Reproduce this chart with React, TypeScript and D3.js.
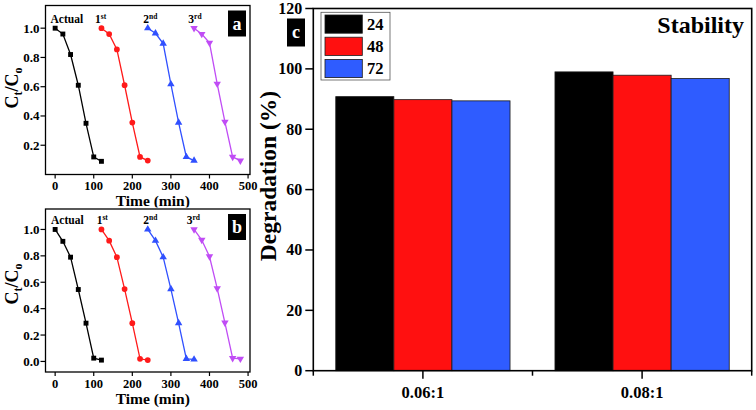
import React from "react";
import * as d3 from "d3";

// ---------- DATA ----------
const timeActual = [0, 20, 40, 60, 80, 100, 120];
const time1st = [120, 140, 160, 180, 200, 220, 240];
const time2nd = [240, 260, 280, 300, 320, 340, 360];
const time3rd = [360, 380, 400, 420, 440, 460, 480];

const aActual = [1.0, 0.96, 0.82, 0.61, 0.35, 0.12, 0.09];
const a1st = [1.0, 0.96, 0.855, 0.61, 0.355, 0.12, 0.095];
const a2nd = [1.0, 0.965, 0.895, 0.617, 0.355, 0.12, 0.095];
const a3rd = [1.0, 0.96, 0.9, 0.62, 0.36, 0.12, 0.095];

const bActual = [1.0, 0.91, 0.79, 0.545, 0.29, 0.025, 0.01];
const b1st = [1.0, 0.915, 0.79, 0.548, 0.29, 0.02, 0.01];
const b2nd = [1.0, 0.915, 0.79, 0.548, 0.29, 0.02, 0.015];
const b3rd = [1.0, 0.92, 0.795, 0.553, 0.293, 0.025, 0.02];

const timeTicks = [0, 100, 200, 300, 400, 500];
const ctTicksA = [0.2, 0.4, 0.6, 0.8, 1.0];
const ctTicksB = [0.0, 0.2, 0.4, 0.6, 0.8, 1.0];

const ratios = ["0.06:1", "0.08:1"];
const hours = ["24", "48", "72"];
const deg24 = [90.8, 99.0];
const deg48 = [89.8, 97.9];
const deg72 = [89.4, 96.8];
const degTicks = [0, 20, 40, 60, 80, 100, 120];

// ---------- STYLE ----------
const FONT_STYLE = { fontFamily: "Liberation Serif" };
const cycleColors = ["#000000", "#ff1a1a", "#3050ff", "#c04cf5"];
const barColors = ["#000000", "#ff1010", "#2f5cff"];
const symbolTypes = [d3.symbolSquare, d3.symbolCircle, d3.symbolTriangle, d3.symbolTriangle];

type PanelProps = {
  top: number;
  bottom: number;
  yDomain: [number, number];
  yTicks: number[];
  series: number[][];
  letter: string;
  labelBaseline: number;
  titleBaseline: number;
  tickBaseline: number;
  ctCenter: number;
  labelXs: number[];
};

const times = [timeActual, time1st, time2nd, time3rd];
const cycleNames = [["Actual", ""], ["1", "st"], ["2", "nd"], ["3", "rd"]];

function KineticsPanel(p: PanelProps) {
  const left = 45.5;
  const right = 250;
  const x = d3.scaleLinear().domain([-25, 505]).range([left, right]);
  const y = d3.scaleLinear().domain(p.yDomain).range([p.bottom, p.top]);
  const line = d3
    .line<[number, number]>()
    .x((d) => x(d[0]))
    .y((d) => y(d[1]));
  return (
    <g style={FONT_STYLE} fontWeight="bold">
      {p.series.map((vals, i) => {
        const pts: [number, number][] = vals.map((v, j) => [times[i][j], v]);
        const sym = d3.symbol().type(symbolTypes[i]).size(i === 1 ? 26 : 24)();
        return (
          <g key={i}>
            <path d={line(pts) || ""} fill="none" stroke={cycleColors[i]} strokeWidth={1.3} />
            {pts.map((d, j) => (
              <path
                key={j}
                d={sym || ""}
                fill={cycleColors[i]}
                transform={`translate(${x(d[0])},${y(d[1])})${i === 3 ? " rotate(180)" : ""}`}
              />
            ))}
          </g>
        );
      })}
      {/* frame */}
      <rect x={left} y={p.top} width={right - left} height={p.bottom - p.top} fill="none" stroke="#000" strokeWidth={1.3} />
      {/* x ticks */}
      {timeTicks.map((t) => (
        <g key={t}>
          <line x1={x(t)} x2={x(t)} y1={p.bottom} y2={p.bottom + 4} stroke="#000" strokeWidth={1.2} />
          <text x={x(t)} y={p.tickBaseline} textAnchor="middle" fontSize={12.5}>
            {t}
          </text>
        </g>
      ))}
      {/* y ticks */}
      {p.yTicks.map((t) => (
        <g key={t}>
          <line x1={left - 5} x2={left} y1={y(t)} y2={y(t)} stroke="#000" strokeWidth={1.2} />
          <text x={left - 6} y={y(t) + 4.5} textAnchor="end" fontSize={13}>
            {t.toFixed(1)}
          </text>
        </g>
      ))}
      {/* axis titles */}
      <text x={(left + right) / 2 + 5} y={p.titleBaseline} textAnchor="middle" fontSize={15.5}>
        Time (min)
      </text>
      <text transform={`translate(17.5,${p.ctCenter}) rotate(-90)`} textAnchor="middle" fontSize={18}>
        C<tspan fontSize={12} dy={4}>t</tspan>
        <tspan dy={-4}>/C</tspan>
        <tspan fontSize={12} dy={4}>o</tspan>
      </text>
      {/* cycle labels */}
      {cycleNames.map((n, i) => (
        <text key={i} x={p.labelXs[i]} y={p.labelBaseline} fontSize={11.5}>
          {n[0]}
          {n[1] && (
            <tspan fontSize={7.5} dy={-4.5}>
              {n[1]}
            </tspan>
          )}
        </text>
      ))}
      {/* panel letter */}
      <rect x={228} y={p.top + 5} width={18} height={26} fill="#000" />
      <text x={237} y={p.top + 24} textAnchor="middle" fontSize={18} fill="#fff">
        {p.letter}
      </text>
    </g>
  );
}

function StabilityPanel() {
  const left = 313.3;
  const right = 751.7;
  const top = 8.5;
  const bottom = 370.7;
  const x = d3.scaleLinear().domain([0.5, 2.5]).range([left, right]);
  const y = d3.scaleLinear().domain([0, 120]).range([bottom, top]);
  const groupWidth = 0.795;
  const sub = d3.scaleBand().domain(hours).range([-groupWidth / 2, groupWidth / 2]).padding(0);
  const seriesVals = [deg24, deg48, deg72];
  return (
    <g style={FONT_STYLE} fontWeight="bold">
      {seriesVals.map((vals, si) =>
        vals.map((v, ci) => {
          const x0 = x(ci + 1 + (sub(hours[si]) as number));
          const x1 = x(ci + 1 + (sub(hours[si]) as number) + sub.bandwidth());
          return (
            <rect
              key={`${si}-${ci}`}
              x={x0}
              y={y(v)}
              width={x1 - x0}
              height={y(0) - y(v)}
              fill={barColors[si]}
              stroke="#1a1a1a"
              strokeWidth={0.8}
            />
          );
        })
      )}
      <rect x={left} y={top} width={right - left} height={bottom - top} fill="none" stroke="#000" strokeWidth={1.6} />
      {degTicks.map((t) => (
        <g key={t}>
          <line x1={left - 8} x2={left} y1={y(t)} y2={y(t)} stroke="#000" strokeWidth={1.5} />
          <text x={left - 11} y={y(t) + 5.5} textAnchor="end" fontSize={16}>
            {t}
          </text>
        </g>
      ))}
      {[0.5, 1, 1.5, 2, 2.5].map((t) => (
        <line
          key={t}
          x1={x(t)}
          x2={x(t)}
          y1={bottom}
          y2={bottom + (Number.isInteger(t) ? 8 : 5)}
          stroke="#000"
          strokeWidth={1.5}
        />
      ))}
      {ratios.map((r, i) => (
        <text key={r} x={x(i + 1)} y={398} textAnchor="middle" fontSize={16.5}>
          {r}
        </text>
      ))}
      <text transform={`translate(276,${176}) rotate(-90)`} textAnchor="middle" fontSize={23.5}>
        Degradation (%)
      </text>
      <text x={744} y={32.5} textAnchor="end" fontSize={24}>
        Stability
      </text>
      {/* legend */}
      <rect x={321} y={12.3} width={69} height={67.7} fill="#fff" stroke="#555" strokeWidth={0.8} />
      {hours.map((h, i) => (
        <g key={h}>
          <rect x={325} y={15 + i * 22.2} width={37.3} height={18.2} fill={barColors[i]} stroke="#1a1a1a" strokeWidth={0.8} />
          <text x={367} y={15 + i * 22.2 + 15} fontSize={16.5}>
            {h}
          </text>
        </g>
      ))}
      {/* panel letter */}
      <rect x={287} y={18.5} width={18} height={28} fill="#000" />
      <text x={296} y={38} textAnchor="middle" fontSize={18} fill="#fff">
        c
      </text>
    </g>
  );
}

export default function App() {
  return (
    <svg
      width={756}
      height={410}
      viewBox="0 0 756 410"
      style={{ position: "absolute", left: 0, top: 0, background: "#fff", display: "block" }}
    >
      <rect width={756} height={410} fill="#fff" />
      <KineticsPanel
        top={5.5}
        bottom={174.5}
        yDomain={[0, 1.155]}
        yTicks={ctTicksA}
        series={[aActual, a1st, a2nd, a3rd]}
        letter="a"
        labelBaseline={23}
        titleBaseline={205.5}
        tickBaseline={190}
        ctCenter={88}
        labelXs={[50.5, 95, 143.3, 188.3]}
      />
      <rect x={0} y={207.5} width={256} height={3} fill="#fff" />
      <KineticsPanel
        top={209}
        bottom={372}
        yDomain={[-0.08, 1.155]}
        yTicks={ctTicksB}
        series={[bActual, b1st, b2nd, b3rd]}
        letter="b"
        labelBaseline={224}
        titleBaseline={404}
        tickBaseline={388}
        ctCenter={284}
        labelXs={[51, 96.7, 143.3, 186.7]}
      />
      <StabilityPanel />
    </svg>
  );
}
